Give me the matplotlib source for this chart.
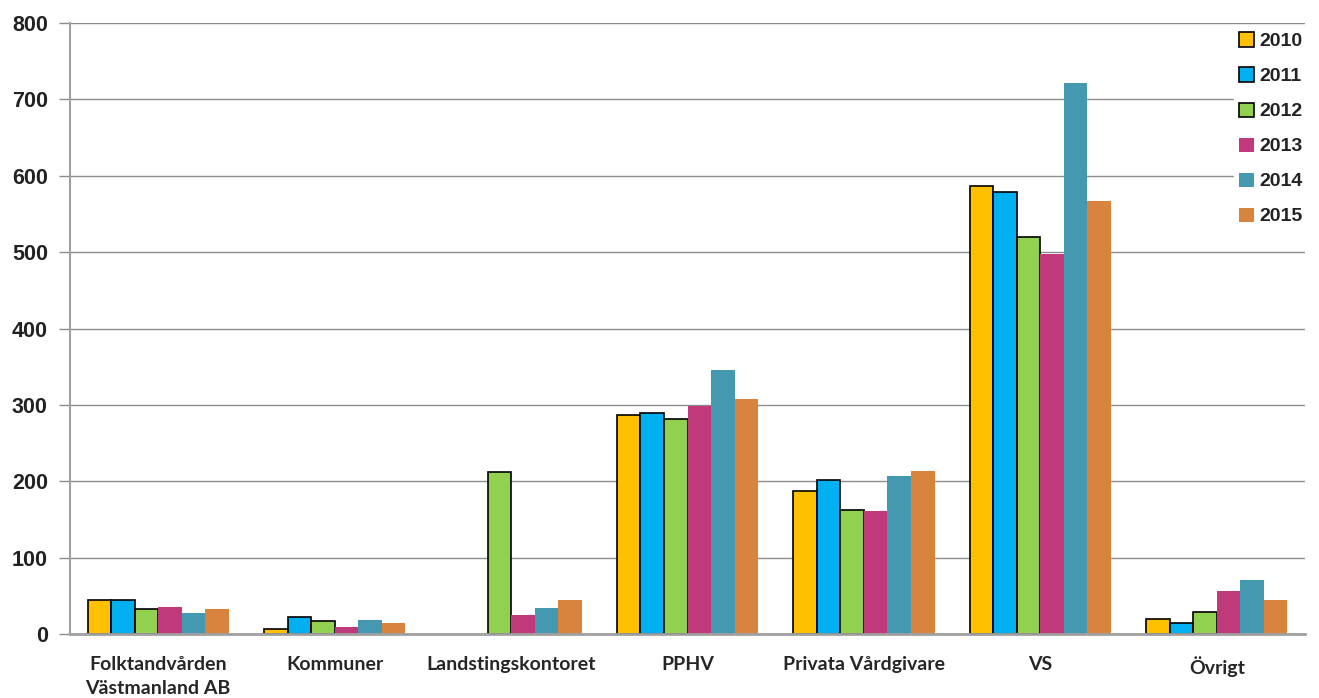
import matplotlib.pyplot as plt
import numpy as np

categories = ["Folktandvården\nVästmanland AB", "Kommuner", "Landstingskontoret",
              "PPHV", "Privata Vårdgivare", "VS", "Övrigt"]
years = ["2010", "2011", "2012", "2013", "2014", "2015"]

v2010 = [44, 6, 0, 287, 187, 586, 19]
v2011 = [44, 22, 0, 289, 202, 579, 14]
v2012 = [33, 17, 212, 281, 163, 520, 29]
v2013 = [36, 9, 25, 298, 161, 497, 56]
v2014 = [27, 18, 34, 346, 207, 722, 71]
v2015 = [33, 15, 45, 308, 214, 567, 44]

series = [v2010, v2011, v2012, v2013, v2014, v2015]
colors = ["#FFC000", "#00B0F0", "#92D050", "#C0397A", "#4499B0", "#D9843E"]
edged = [True, True, True, False, False, False]

fig = plt.figure(figsize=(13.19, 6.98), dpi=100)
ax = fig.add_axes([0.0531, 0.0917, 0.9363, 0.8753])

x = np.arange(len(categories))
w = 0.8 / 6
for i, (vals, c, e) in enumerate(zip(series, colors, edged)):
    # no outline on empty bars
    lw = [1.2 if (e and v > 0) else 0 for v in vals]
    ax.bar(x - 0.4 + w * (i + 0.5), vals, w, color=c,
           edgecolor="black" if e else c, linewidth=lw,
           label=years[i], zorder=3)

ax.set_xlim(-0.5, len(categories) - 0.5)
ax.set_ylim(0, 800)
ax.set_yticks(range(0, 801, 100))
ax.yaxis.grid(True, color="#8c8c8c", linewidth=1.0, zorder=0)
for s in ["top", "right"]:
    ax.spines[s].set_visible(False)
ax.spines["left"].set_color("#a0a0a0")
ax.spines["left"].set_linewidth(1.5)
ax.spines["bottom"].set_color("#a0a0a0")
ax.spines["bottom"].set_linewidth(2)
ax.spines["bottom"].set_zorder(4)
ax.tick_params(axis="x", length=0, pad=16)
ax.tick_params(axis="y", length=8, width=1, color="#8c8c8c", pad=8)

ax.set_xticks(x)
ax.set_xticklabels(categories, fontsize=14, family="Lato", fontweight="bold",
                   linespacing=1.45, color="#262626")
for t in ax.get_yticklabels():
    t.set_family("Liberation Sans")
    t.set_fontweight("bold")
    t.set_fontsize(15.5)
    t.set_color("#222222")

leg = ax.legend(loc="upper right", bbox_to_anchor=(1.011, 1.01), frameon=True,
                prop={"family": "Liberation Sans", "weight": "bold", "size": 14},
                handlelength=0.75, handleheight=0.75, handletextpad=0.3,
                labelspacing=0.88, borderpad=0.3)
leg.get_frame().set_edgecolor("white")
leg.get_frame().set_facecolor("white")
leg.get_frame().set_alpha(1)
leg.set_zorder(5)
for t in leg.get_texts():
    t.set_color("#222222")

fig.savefig("out.png", dpi=100)
